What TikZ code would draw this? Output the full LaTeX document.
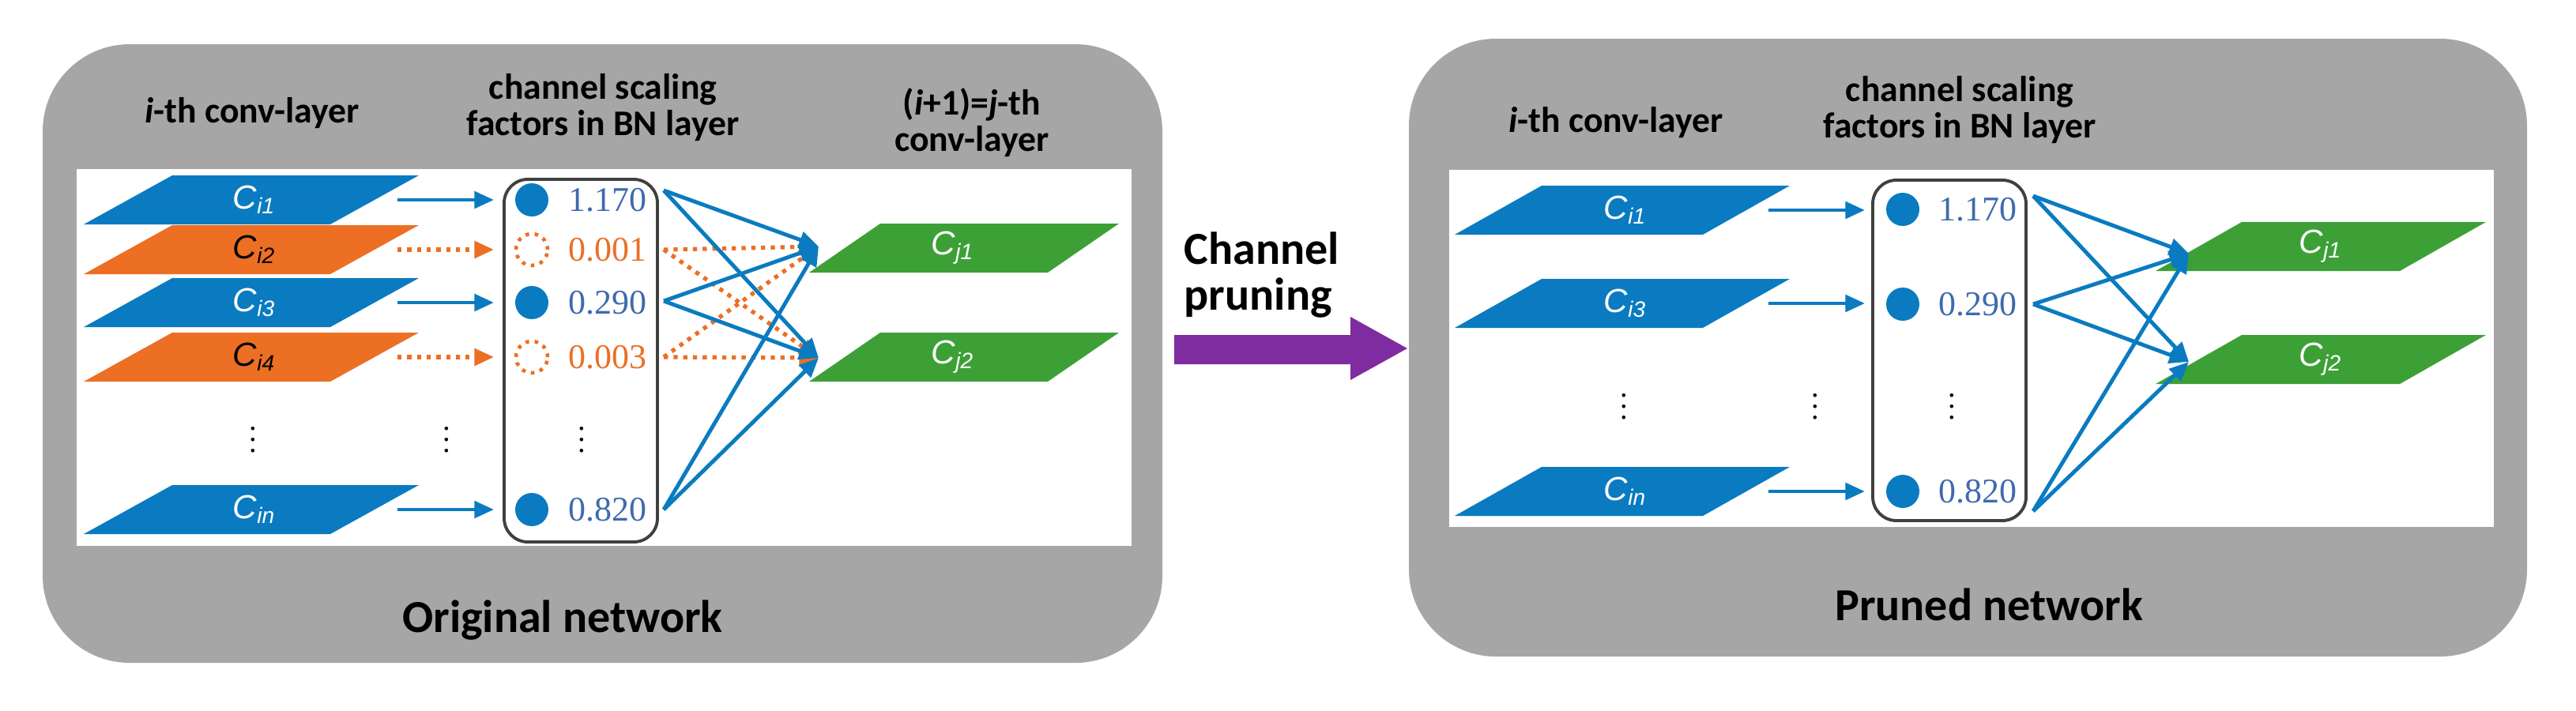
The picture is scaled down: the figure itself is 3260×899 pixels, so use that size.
\documentclass[tikz,border=0pt]{standalone}
\usepackage{fontspec}
\setmainfont{Carlito}
\newfontfamily\serifnum{Liberation Serif}
\newfontfamily\arialf{Liberation Sans}
\usetikzlibrary{arrows.meta}
\definecolor{panelgray}{HTML}{A6A6A6}
\definecolor{cblue}{HTML}{0A7BC0}
\definecolor{corange}{HTML}{EC6F24}
\definecolor{cgreen}{HTML}{3DA037}
\definecolor{cpurple}{HTML}{7F2CA0}
\definecolor{numblue}{HTML}{3F6AAE}
\newcommand{\fsz}[1]{\fontsize{#1}{#1*1.2}\selectfont}
\newcommand{\hdr}{\fsz{13pt}\bfseries}
\tikzset{
  panel/.style={fill=panelgray, rounded corners=1.1cm},
  whitearea/.style={fill=white},
  head/.style={font=\hdr, align=center, inner sep=0pt},
  big/.style={font=\fsz{16.5pt}\bfseries, align=center, inner sep=0pt},
  clab/.style={font=\arialf\itshape\fsz{12pt}, inner sep=0pt},
  val/.style={font=\serifnum\fsz{12.5pt}, anchor=west, inner sep=0pt},
  bnbox/.style={draw=black!75, line width=1.1pt, rounded corners=0.3cm},
  full/.style={circle, fill=cblue, minimum size=42*0.01cm, inner sep=0pt},
  pruned/.style={circle, draw=corange, dotted, line width=1.3pt, minimum size=40*0.01cm, inner sep=0pt},
  keep/.style={-{Triangle[length=7pt,width=6pt]}, draw=cblue, line width=1.4pt},
  drop/.style={-{Triangle[length=7pt,width=6pt]}, draw=corange, dotted, line width=1.5pt},
  dts/.style={font=\serifnum\fsz{11pt}, inner sep=0pt},
}
% parallelogram: centre x, centre y, colour, half-span, slant
\newcommand{\para}[5]{%
  \fill[#3] ({#1-#4},{#2+31}) -- ({#1+#4-#5},{#2+31}) -- ({#1+#4},{#2-31}) -- ({#1-#4+#5},{#2-31}) -- cycle;}
\begin{document}
\begin{tikzpicture}[x=0.01cm,y=-0.01cm]
\useasboundingbox (0,0) rectangle (3260,899);
% ---------------- left panel ----------------
\fill[panel] (54,56) rectangle (1471,839);
\fill[whitearea] (97,214) rectangle (1432,691);
\node[head] (h1) at (319,143) {\textit{i}-th conv-layer};
\node[head] (h2) at (763,136) {channel scaling\\factors in BN layer};
\node[head] (h3) at (1230,155) {(\textit{i}+1)=\textit{j}-th\\conv-layer};
\node[big] (t1) at (712,785) {Original network};
% input feature maps
\para{318}{253}{cblue}{212}{112}
\para{318}{316}{corange}{212}{112}
\para{318}{383}{cblue}{212}{112}
\para{318}{452}{corange}{212}{112}
\para{318}{645}{cblue}{212}{112}
\node[clab, text=white] (ci1) at (322,253) {C\textsubscript{\fsz{8pt}i1}};
\node[clab, text=black] (ci2) at (322,316) {C\textsubscript{\fsz{8pt}i2}};
\node[clab, text=white] (ci3) at (322,383) {C\textsubscript{\fsz{8pt}i3}};
\node[clab, text=black] (ci4) at (322,452) {C\textsubscript{\fsz{8pt}i4}};
\node[clab, text=white] (cin) at (322,645) {C\textsubscript{\fsz{8pt}in}};
\coordinate (o1) at (503,253); \coordinate (o2) at (503,316); \coordinate (o3) at (503,383);
\coordinate (o4) at (503,452); \coordinate (on) at (503,645);
% BN box
\draw[bnbox] (638,227) rectangle (832,686);
\node[full] (b1) at (673,253) {};
\node[pruned] (b2) at (673,316) {};
\node[full] (b3) at (673,383) {};
\node[pruned] (b4) at (673,452) {};
\node[full] (bn) at (673,645) {};
\node[val, numblue] (v1) at (719,253) {1.170};
\node[val, corange] (v2) at (719,316) {0.001};
\node[val, numblue] (v3) at (719,383) {0.290};
\node[val, corange] (v4) at (719,452) {0.003};
\node[val, numblue] (vn) at (719,645) {0.820};
\coordinate (i1) at (625,253); \coordinate (i2) at (625,316); \coordinate (i3) at (625,383);
\coordinate (i4) at (625,452); \coordinate (in) at (625,645);
\draw[keep] (o1) -- (i1); \draw[drop] (o2) -- (i2); \draw[keep] (o3) -- (i3);
\draw[drop] (o4) -- (i4); \draw[keep] (on) -- (in);
\node[dts] (d1) at (320,546) {$\vdots$};
\node[dts] (d2) at (565,546) {$\vdots$};
\node[dts] (d3) at (736,546) {$\vdots$};
% output maps
\para{1220}{314}{cgreen}{196}{90}
\para{1220}{452}{cgreen}{196}{90}
\node[clab, text=white] (cj1) at (1206,314) {C\textsubscript{\fsz{8pt}j1}};
\node[clab, text=white] (cj2) at (1206,452) {C\textsubscript{\fsz{8pt}j2}};
\coordinate (f1) at (840,241); \coordinate (f2) at (840,316); \coordinate (f3) at (840,381);
\coordinate (f4) at (840,452); \coordinate (fn) at (840,645);
\coordinate (g1) at (1036,312); \coordinate (g2) at (1036,453);
\foreach \s in {f2,f4}{\draw[drop] (\s) -- (g1); \draw[drop] (\s) -- (g2);}
\foreach \s in {f1,f3,fn}{\draw[keep] (\s) -- (g1); \draw[keep] (\s) -- (g2);}
% ---------------- middle arrow ----------------
\fill[cpurple] (1486,424) -- (1709,424) -- (1709,401) -- (1781,441) -- (1709,481) -- (1709,461) -- (1486,461) -- cycle;
\node[big, anchor=west, align=left] (cp) at (1498,348) {Channel\\pruning};
% ---------------- right panel ----------------
\fill[panel] (1783,49) rectangle (3198,831);
\fill[whitearea] (1834,215) rectangle (3156,667);
\node[head] (r1) at (2045,155) {\textit{i}-th conv-layer};
\node[head] (r2) at (2480,139) {channel scaling\\factors in BN layer};
\node[big] (t2) at (2517,765) {Pruned network};
\para{2053}{266}{cblue}{212}{110}
\para{2053}{384}{cblue}{212}{110}
\para{2053}{622}{cblue}{212}{110}
\node[clab, text=white] (ri1) at (2057,266) {C\textsubscript{\fsz{8pt}i1}};
\node[clab, text=white] (ri3) at (2057,384) {C\textsubscript{\fsz{8pt}i3}};
\node[clab, text=white] (rin) at (2057,622) {C\textsubscript{\fsz{8pt}in}};
\coordinate (ro1) at (2238,266); \coordinate (ro3) at (2238,384); \coordinate (ron) at (2238,622);
\draw[bnbox] (2370,228) rectangle (2564,659);
\node[full] (rb1) at (2408,265) {};
\node[full] (rb3) at (2408,385) {};
\node[full] (rbn) at (2408,622) {};
\node[val, numblue] (rv1) at (2453,265) {1.170};
\node[val, numblue] (rv3) at (2453,385) {0.290};
\node[val, numblue] (rvn) at (2453,622) {0.820};
\coordinate (ri1e) at (2360,266); \coordinate (ri3e) at (2360,384); \coordinate (rine) at (2360,622);
\draw[keep] (ro1) -- (ri1e); \draw[keep] (ro3) -- (ri3e); \draw[keep] (ron) -- (rine);
\node[dts] (rd1) at (2055,504) {$\vdots$};
\node[dts] (rd2) at (2297,504) {$\vdots$};
\node[dts] (rd3) at (2470,504) {$\vdots$};
\para{2937}{312}{cgreen}{209}{109}
\para{2937}{455}{cgreen}{209}{109}
\node[clab, text=white] (rj1) at (2937,312) {C\textsubscript{\fsz{8pt}j1}};
\node[clab, text=white] (rj2) at (2937,455) {C\textsubscript{\fsz{8pt}j2}};
\coordinate (rf1) at (2573,248); \coordinate (rf3) at (2573,385); \coordinate (rfn) at (2573,647);
\coordinate (rg1) at (2770,321); \coordinate (rg2) at (2770,458);
\foreach \s in {rf1,rf3,rfn}{\draw[keep] (\s) -- (rg1); \draw[keep] (\s) -- (rg2);}
\end{tikzpicture}
\end{document}
